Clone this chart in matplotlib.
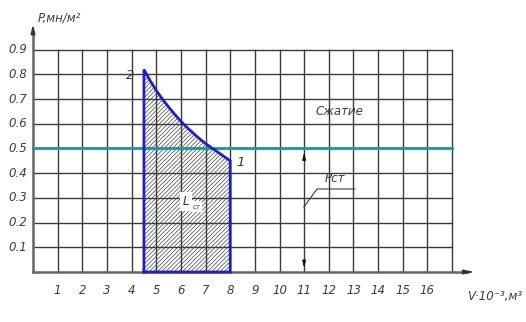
import matplotlib
matplotlib.use("Agg")
import matplotlib.pyplot as plt

# --- data ---
v_ticks = list(range(1, 17))                  # V, 10^-3 m^3
p_ticks = [0.1, 0.2, 0.3, 0.4, 0.5, 0.6, 0.7, 0.8, 0.9]
p_tick_labels = ["0.1", "0.2", "0.3", "0.4", "0.5", "0.6", "0.7", "0.8", "0.9"]

# compression curve 2 -> 1
curve_v = [4.5, 4.75, 5.0, 5.25, 5.5, 5.75, 6.0, 6.25, 6.5, 6.75, 7.0, 7.5, 8.0]
curve_p = [0.82, 0.775, 0.735, 0.70, 0.668, 0.638, 0.61, 0.585, 0.562, 0.54,
           0.52, 0.485, 0.45]

p_st = 0.5          # Pст level
grid_vmax = 17
grid_pmax = 0.9

txt = "#3c3c3c"
blue = "#1f1fc8"
teal = "#1a9a9a"
grid_c = "#3a3a3a"

plt.rcParams["hatch.linewidth"] = 0.5

fig = plt.figure(figsize=(5.26, 3.22), dpi=100)
ax = fig.add_axes([0, 0, 1, 1])
ax.set_xlim(-1.339, 20.0)
ax.set_ylim(-0.2024, 1.101)
ax.axis("off")

fs = dict(fontsize=8.5, style="italic", color=txt, family="DejaVu Sans")

# grid
for v in v_ticks + [grid_vmax]:
    ax.plot([v, v], [0, grid_pmax], color=grid_c, lw=1.0, zorder=1)
for p in p_ticks:
    ax.plot([0, grid_vmax], [p, p], color=grid_c, lw=1.0, zorder=1)

# axes with arrows
ax.plot([0, 0], [0, 0.96], color="#666666", lw=1.8, zorder=2)
ax.plot([0, 17.6], [0, 0], color="#666666", lw=1.8, zorder=2)
ax.annotate("", xy=(0, 1.015), xytext=(0, 0.95),
            arrowprops=dict(arrowstyle="-|>,head_length=0.5,head_width=0.12",
                            color="#333333", lw=1.2))
ax.annotate("", xy=(18.05, 0), xytext=(17.4, 0),
            arrowprops=dict(arrowstyle="-|>,head_length=0.6,head_width=0.12",
                            color="#333333", lw=1.2))

# tick labels
for v in v_ticks:
    ax.text(v, -0.073, str(v), ha="center", va="center", **fs)
for p, lab in zip(p_ticks, p_tick_labels):
    ax.text(-0.24, p, lab, ha="right", va="center", **fs)

ax.text(0.2, 1.03, "P,мн/м²", ha="left", va="center", **fs)
ax.text(17.6, -0.10, "V·10⁻³,м³", ha="left", va="center", **fs)

# hatched region under the curve
poly_v = curve_v + [curve_v[-1], curve_v[0]]
poly_p = curve_p + [0, 0]
ax.fill(poly_v, poly_p, facecolor="none", edgecolor="#444444",
        hatch="////////", lw=0, zorder=3)
ax.plot([curve_v[0]] + curve_v + [curve_v[-1], curve_v[0], curve_v[0]],
        [0] + curve_p + [0, 0, 0], color=blue, lw=2, zorder=5,
        solid_joinstyle="miter")

# Pст line
ax.plot([0, grid_vmax], [p_st, p_st], color=teal, lw=2, zorder=4)

# point labels
ax.text(3.94, 0.794, "2", ha="center", va="center", fontsize=9.5,
        style="italic", color=txt)
ax.text(8.4, 0.445, "1", ha="center", va="center", fontsize=9.5,
        style="italic", color=txt)

# Lст label
ax.text(6.2, 0.285, "L", ha="center", va="center", fontsize=8.5,
        style="italic", color=txt, zorder=6,
        bbox=dict(facecolor="white", edgecolor="none", pad=2.0))
ax.text(6.62, 0.265, "ст", ha="center", va="center", fontsize=5,
        style="italic", color=txt, zorder=7,
        bbox=dict(facecolor="white", edgecolor="none", pad=1.5))

# Сжатие / Рст annotations
ax.text(12.45, 0.648, "Сжатие", ha="center", va="center", **fs)
ax.text(12.25, 0.38, "Рст", ha="center", va="center", **fs)
ax.plot([10.99, 11.52, 13.06], [0.263, 0.336, 0.336], color=txt, lw=0.8)

# dimension arrows at V = 11
ax.annotate("", xy=(11, 0.495), xytext=(11, 0.44),
            arrowprops=dict(arrowstyle="-|>,head_length=0.4,head_width=0.1",
                            color="#111111", lw=0.8))
ax.annotate("", xy=(11, 0.005), xytext=(11, 0.06),
            arrowprops=dict(arrowstyle="-|>,head_length=0.4,head_width=0.1",
                            color="#111111", lw=0.8))

fig.savefig("out.png", dpi=100)
